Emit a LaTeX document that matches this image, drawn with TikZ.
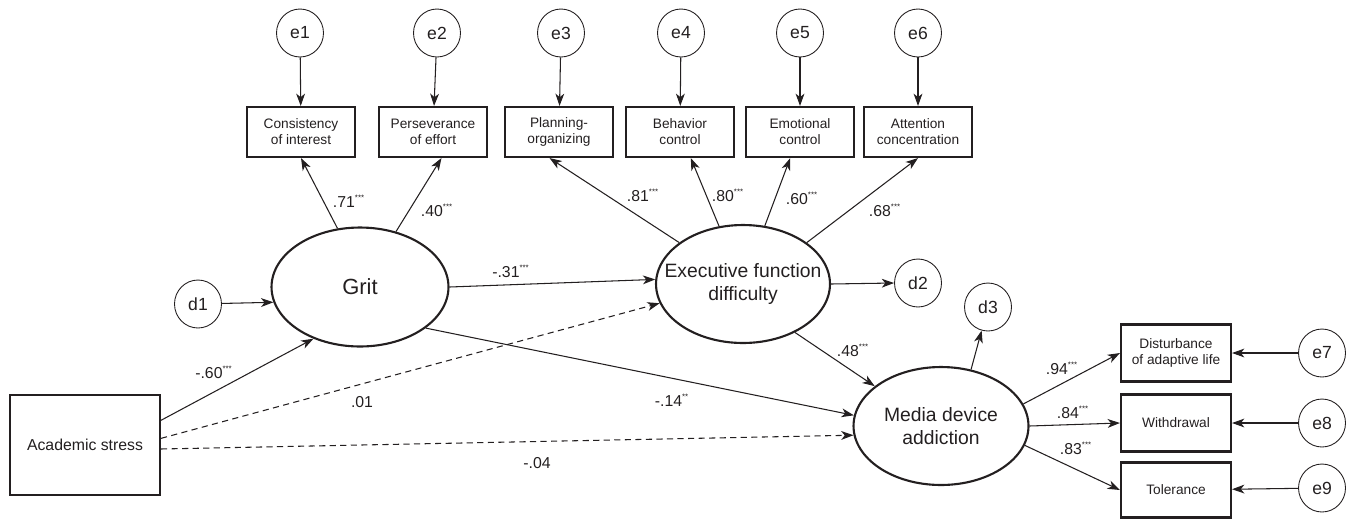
\documentclass[tikz,border=0pt]{standalone}
\usepackage{fontspec}
\setmainfont{Liberation Sans}
\usepackage{xcolor}
\usetikzlibrary{arrows.meta,shapes.geometric}
\definecolor{ink}{HTML}{231F20}
\newcommand{\stars}[1]{\textsuperscript{\fontsize{4.5}{4.5}\selectfont #1}}

\begin{document}
\begin{tikzpicture}[x=0.02cm,y=-0.02cm,color=ink,
		ind/.style={draw,line width=1.2pt,minimum width=2.16cm,minimum height=1cm,inner sep=1pt,align=center,font=\fontsize{7.8}{9}\selectfont},
		lat/.style={draw,ellipse,line width=1.2pt,minimum width=3.5cm,minimum height=2.36cm,inner sep=0pt},
		latext/.style={font=\fontsize{11}{13}\selectfont,align=center},
		res/.style={draw,ellipse,line width=0.5pt,minimum width=0.94cm,minimum height=0.96cm,inner sep=0pt,font=\fontsize{10}{12}\selectfont},
		pth/.style={-{Stealth[length=7pt,width=5pt,inset=2pt]},line width=0.6pt},
		nsig/.style={pth,dash pattern=on 3.5pt off 2.5pt},
		coef/.style={inner sep=0pt,font=\fontsize{9}{10}\selectfont}]
		\useasboundingbox (0,0) rectangle (1354,518);

		\node[res] (e1) at (300,33) {e1};
		\node[res] (e2) at (437,33) {e2};
		\node[res] (e3) at (561,33) {e3};
		\node[res] (e4) at (681,33) {e4};
		\node[res] (e5) at (800,33) {e5};
		\node[res] (e6) at (918,33) {e6};

		\node[ind] (ind1) at (301,132) {Consistency\\of interest};
		\node[ind] (ind2) at (433,132) {Perseverance\\of effort};
		\node[ind] (ind3) at (559,132) {Planning-\\organizing};
		\node[ind] (ind4) at (680,132) {Behavior\\control};
		\node[ind] (ind5) at (800,132) {Emotional\\control};
		\node[ind] (ind6) at (918,132) {Attention\\concentration};

		\node[lat,minimum width=3.54cm,minimum height=2.38cm,label={[font=\fontsize{12.5}{14}\selectfont]center:Grit}] (grit) at (360,287) {};
		\node[lat,minimum width=3.48cm,label={[latext]center:Executive function\\difficulty}] (efd) at (743,284) {};
		\node[lat,label={[latext]center:Media device\\addiction}] (mda) at (941,426) {};

		\node[res] (d1) at (198,304) {d1};
		\node[res] (d2) at (918,283) {d2};
		\node[res] (d3) at (988,307) {d3};

		\node[ind,minimum width=3cm,minimum height=2cm,font=\fontsize{9}{11}\selectfont] (acad) at (85,445) {Academic stress};

		\node[ind,minimum width=2.2cm,minimum height=1.14cm] (dist) at (1176,353) {Disturbance\\of adaptive life};
		\node[ind,minimum width=2.2cm,minimum height=1.14cm] (with) at (1176,423) {Withdrawal};
		\node[ind,minimum width=2.2cm,minimum height=1.1cm] (tol) at (1176,490) {Tolerance};

		\node[res] (e7) at (1322,353) {e7};
		\node[res] (e8) at (1322,423) {e8};
		\node[res] (e9) at (1322,488) {e9};

		\draw[pth] (e1) -- (ind1);
		\draw[pth] (e2) -- (ind2);
		\draw[pth] (e3) -- (ind3);
		\draw[pth] (e4) -- (ind4);
		\draw[pth] (e5) -- (ind5);
		\draw[pth] (e6) -- (ind6);

		\draw[pth] (grit.111) -- (ind1.south);
		\draw[pth] (grit.57) -- (ind2.-72);
		\draw[pth] (efd.147) -- (ind3.250);
		\draw[pth] (efd) -- (ind4);
		\draw[pth] (efd) -- (ind5);
		\draw[pth] (efd.33) -- (ind6.south);

		\draw[pth] (d1) -- (grit.190);
		\draw[pth] (acad.18) -- (grit.228);
		\draw[pth] (grit.east) -- (efd.177);
		\draw[pth] (grit.-32) -- (mda.173);
		\draw[nsig] (acad.5) -- (efd.193);
		\draw[nsig] (acad.-3) -- (mda.186);
		\draw[pth] (efd.east) -- (d2.west);
		\draw[pth] (efd.-43) -- (mda.149);
		\draw[pth] (mda.62) -- (d3);

		\draw[pth] (mda.15) -- (dist.west);
		\draw[pth] (mda.east) -- (with.west);
		\draw[pth] (mda.-13) -- (tol.west);
		\draw[pth] (e7) -- (dist);
		\draw[pth] (e8) -- (with);
		\draw[pth] (e9) -- (tol);

		\node[coef] (c1) at (349,201) {.71\stars{***}};
		\node[coef] (c2) at (437,210) {.40\stars{***}};
		\node[coef] (c3) at (643,195) {.81\stars{***}};
		\node[coef] (c4) at (728,195) {.80\stars{***}};
		\node[coef] (c5) at (802,198) {.60\stars{***}};
		\node[coef] (c6) at (885,210) {.68\stars{***}};
		\node[coef] (c7) at (511,271) {-.31\stars{***}};
		\node[coef] (c8) at (214,372) {-.60\stars{***}};
		\node[coef] (c9) at (362,402) {.01};
		\node[coef] (c10) at (537,463) {-.04};
		\node[coef] (c11) at (672,400) {-.14\stars{**}};
		\node[coef] (c12) at (853,350) {.48\stars{***}};
		\node[coef] (c13) at (1062,368) {.94\stars{***}};
		\node[coef] (c14) at (1073,412) {.84\stars{***}};
		\node[coef] (c15) at (1076,448) {.83\stars{***}};
	\end{tikzpicture}
\end{document}
